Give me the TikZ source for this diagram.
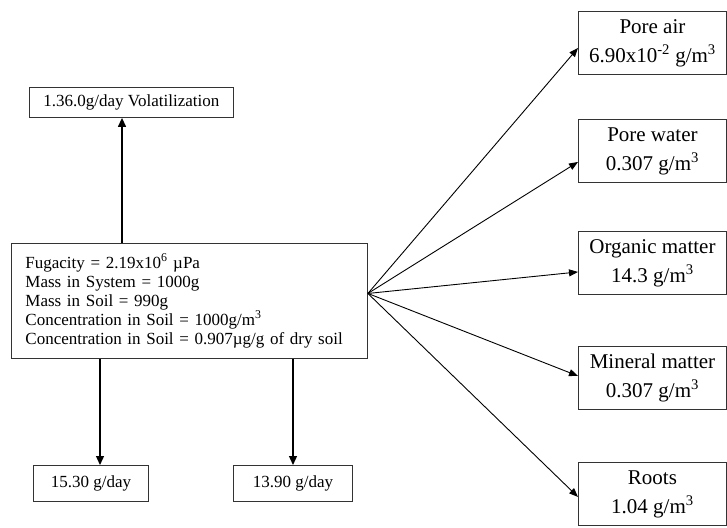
\documentclass[tikz,border=0pt]{standalone}
\usepackage{fontspec}
\setmainfont{Liberation Serif}
\usetikzlibrary{arrows.meta,calc}
\begin{document}
\begin{tikzpicture}[x=1pt,y=-1pt,
  box/.style={draw=black!80, line width=0.9pt, inner sep=0pt},
  rbox/.style={box, anchor=north west, minimum width=148pt, minimum height=63pt, align=center, font=\fontsize{21}{29}\selectfont},
  sbox/.style={box, anchor=north west, font=\fontsize{17}{19}\selectfont},
  arr/.style={-{Triangle[length=9pt,width=8pt]}, line width=1.3pt},
  darr/.style={-{Triangle[length=9pt,width=7pt]}, line width=0.9pt}]
\useasboundingbox (0,0) rectangle (727,527);

\node[box, anchor=north west, text width=328pt, inner xsep=14pt, minimum height=115pt, align=left, font=\fontsize{17}{19}\selectfont] (main) at (11,243)
  {Fugacity = 2.19x10\textsuperscript{6} µPa\\
   Mass in System = 1000g\\
   Mass in Soil = 990g\\
   Concentration in Soil = 1000g/m\textsuperscript{3}\\
   Concentration in Soil = 0.907µg/g of dry soil};

\node[sbox, minimum height=30pt, inner xsep=14pt] (vol) at (29,87) {1.36.0g/day Volatilization};
\node[sbox, minimum width=115pt, minimum height=36pt] (b1) at (33,465) {15.30 g/day};
\node[sbox, minimum width=119pt, minimum height=36pt] (b2) at (233,465) {13.90 g/day};

\node[rbox] (pa) at (578,11) {Pore air\\6.90x10\textsuperscript{-2} g/m\textsuperscript{3}};
\node[rbox] (pw) at (578,119) {Pore water\\0.307 g/m\textsuperscript{3}};
\node[rbox] (om) at (578,231) {Organic matter\\14.3 g/m\textsuperscript{3}};
\node[rbox] (mm) at (578,346) {Mineral matter\\0.307 g/m\textsuperscript{3}};
\node[rbox] (ro) at (578,462) {Roots\\1.04 g/m\textsuperscript{3}};

\coordinate (vtop) at ($(main.north west)+(111,0)$);
\draw[arr] (vtop) -- (vtop |- vol.south);
\coordinate (d1) at ($(main.south west)+(89,0)$);
\draw[arr] (d1) -- (d1 |- b1.north);
\coordinate (d2) at ($(main.south west)+(282,0)$);
\draw[arr] (d2) -- (d2 |- b2.north);

\coordinate (hub) at ($(main.east)+(0,-7.5)$);
\draw[darr] (hub) -- ($(pa.west)+(0,5)$);
\draw[darr] (hub) -- ($(pw.west)+(0,11)$);
\draw[darr] (hub) -- ($(om.west)+(0,9)$);
\draw[darr] (hub) -- ($(mm.west)+(0,-2)$);
\draw[darr] (hub) -- ($(ro.west)+(0,3)$);
\end{tikzpicture}
\end{document}
